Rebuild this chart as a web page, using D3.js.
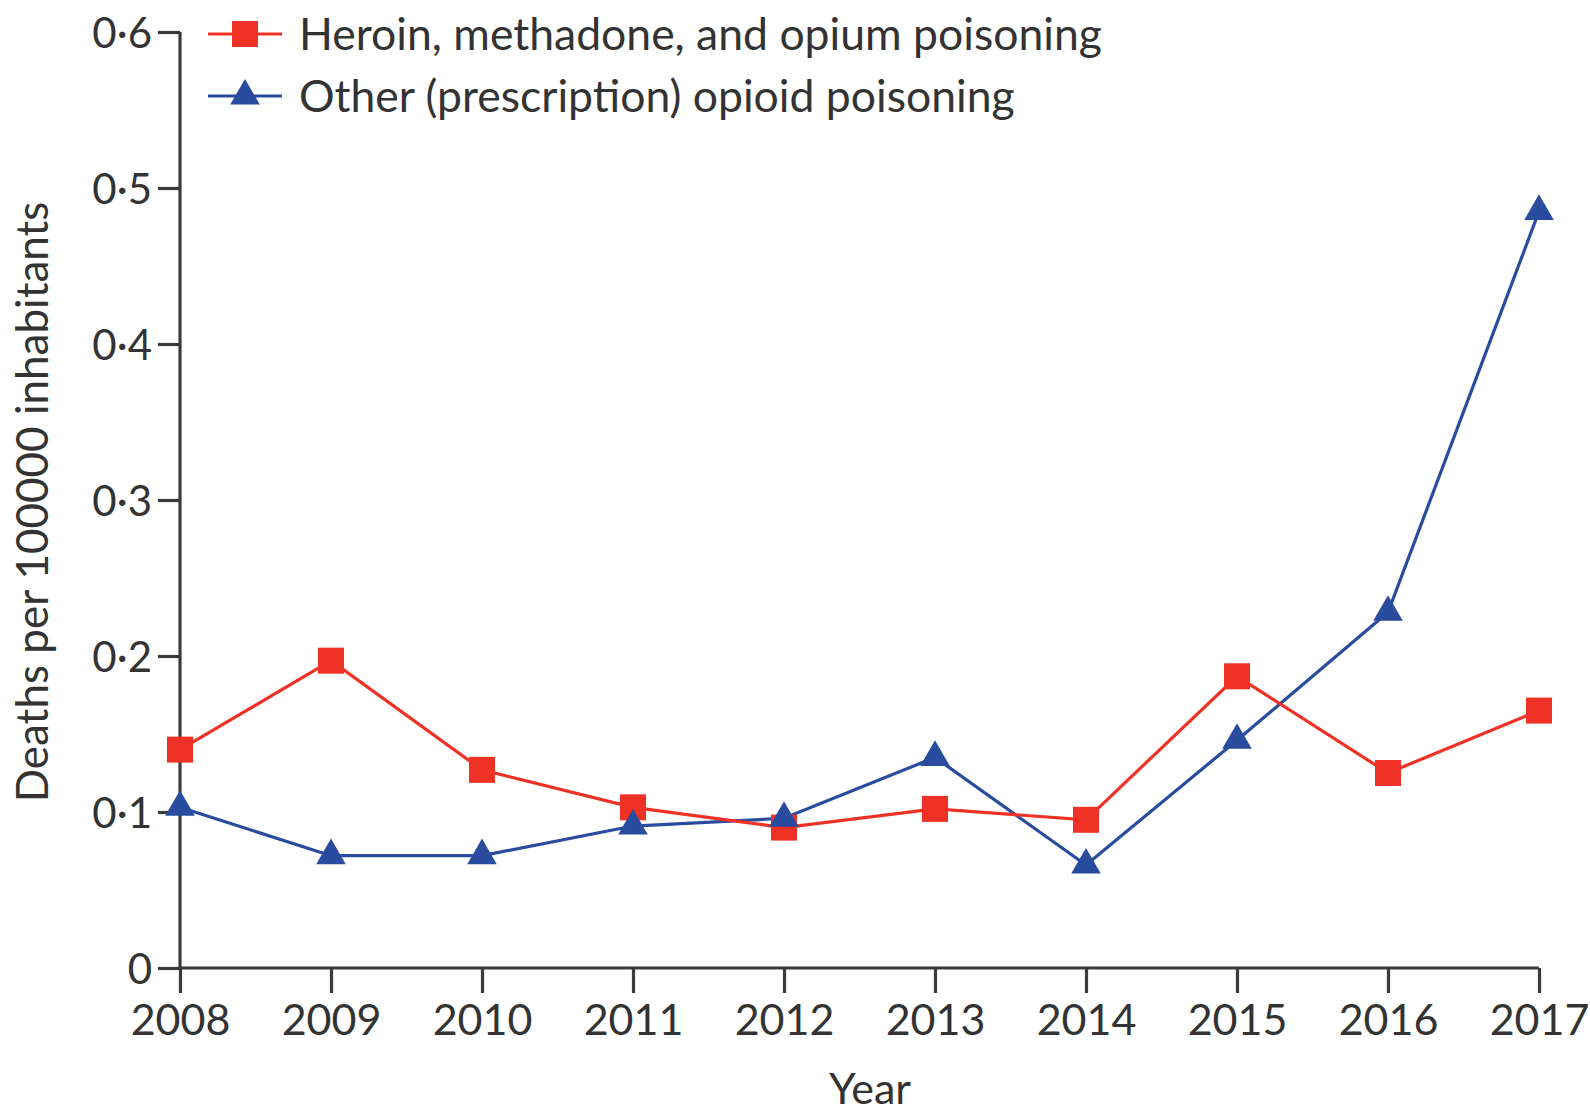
<!DOCTYPE html>
<html><head><meta charset="utf-8">
<script src="https://cdn.jsdelivr.net/npm/d3@7"></script>
<style>html,body{margin:0;padding:0;background:#fff;}svg{display:block;}</style>
</head><body>
<svg id="chart" width="1590" height="1116"></svg>
<script>
const years = [2008, 2009, 2010, 2011, 2012, 2013, 2014, 2015, 2016, 2017];
const heroin = [0.140, 0.197, 0.127, 0.103, 0.090, 0.102, 0.095, 0.187, 0.125, 0.165];
const other = [0.103, 0.072, 0.072, 0.091, 0.096, 0.135, 0.066, 0.146, 0.228, 0.485];
const yTicks = [0, 0.1, 0.2, 0.3, 0.4, 0.5, 0.6];
const seriesNames = ["Heroin, methadone, and opium poisoning", "Other (prescription) opioid poisoning"];
const seriesColors = ["#f03226", "#2a4c9f"];

const svg = d3.select("#chart");
const font = "Lato, 'Open Sans', sans-serif";
const axisColor = "#3b3b3b";
const textColor = "#333";

const x = d3.scaleLinear().domain([2008, 2017]).range([180, 1539]);
const y = d3.scaleLinear().domain([0, 0.6]).range([968, 32]);

// axes
const yAxis = d3.axisLeft(y).tickValues(yTicks).tickSize(22).tickPadding(6)
  .tickFormat(d => d === 0 ? "0" : d3.format(".1f")(d).replace(".", "\u00B7"));
const gy = svg.append("g").attr("transform", "translate(180,0)").call(yAxis);
const xAxis = d3.axisBottom(x).tickValues(years).tickSize(25).tickPadding(11).tickFormat(d3.format("d"));
const gx = svg.append("g").attr("transform", "translate(0,968)").call(xAxis);

[gx, gy].forEach(g => {
  g.select(".domain").attr("stroke", axisColor).attr("stroke-width", 3.2);
  g.selectAll(".tick line").attr("stroke", axisColor).attr("stroke-width", 3.2);
  g.selectAll(".tick text").attr("fill", textColor).style("font-family", font).style("font-size", "43px");
});
gy.selectAll(".tick text").style("font-size", "42px");
gy.select(".domain").attr("d", "M0,32V968");
gx.select(".domain").attr("d", "M180,0H1539");
gy.selectAll(".tick text").attr("dy", "0.36em");

// axis titles
svg.append("text").attr("x", 870).attr("y", 1104).attr("text-anchor", "middle")
  .attr("fill", textColor).style("font-family", font).style("font-size", "43px").text("Year");
svg.append("text").attr("transform", "translate(48,502) rotate(-90)").attr("text-anchor", "middle")
  .attr("fill", textColor).style("font-family", font).style("font-size", "44px").text("Deaths per 100000 inhabitants");

const line = d3.line().x((d, i) => x(years[i])).y(d => y(d));
const tri = d3.symbol().type(d3.symbolTriangle).size(380);

// blue series
svg.append("path").datum(other).attr("d", line).attr("fill", "none")
  .attr("stroke", seriesColors[1]).attr("stroke-width", 3.2);
// red series
svg.append("path").datum(heroin).attr("d", line).attr("fill", "none")
  .attr("stroke", seriesColors[0]).attr("stroke-width", 3.2);
svg.selectAll(".sq").data(heroin).enter().append("rect")
  .attr("x", (d, i) => x(years[i]) - 13).attr("y", d => y(d) - 13)
  .attr("width", 26).attr("height", 26).attr("fill", seriesColors[0]);
svg.selectAll(".tr").data(other).enter().append("path")
  .attr("d", tri).attr("transform", (d, i) => `translate(${x(years[i])},${y(d)})`)
  .attr("fill", seriesColors[1]);

// legend
const leg = svg.append("g");
[0, 1].forEach(k => {
  const ly = k === 0 ? 34 : 96;
  leg.append("line").attr("x1", 208).attr("x2", 282).attr("y1", ly).attr("y2", ly)
    .attr("stroke", seriesColors[k]).attr("stroke-width", 3.2);
  if (k === 0) {
    leg.append("rect").attr("x", 245 - 13).attr("y", ly - 13).attr("width", 26).attr("height", 26).attr("fill", seriesColors[k]);
  } else {
    leg.append("path").attr("d", tri).attr("transform", `translate(245,${ly})`).attr("fill", seriesColors[k]);
  }
  leg.append("text").attr("x", 299).attr("y", ly).attr("dy", "0.36em").attr("fill", textColor)
    .style("font-family", font).style("font-size", "44.5px").text(seriesNames[k]);
});
</script>
</body></html>
